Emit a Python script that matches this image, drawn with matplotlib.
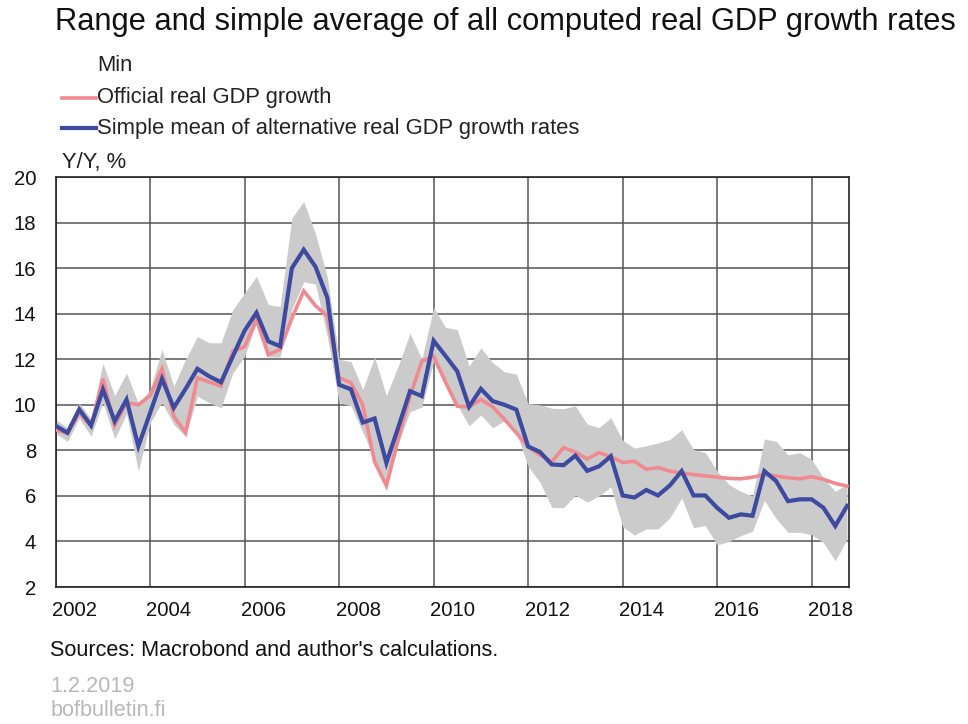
import numpy as np
import matplotlib
matplotlib.use("Agg")
import matplotlib.pyplot as plt

plt.rcParams['font.family'] = ['Liberation Sans', 'DejaVu Sans']

# --- quarterly data, 2002Q1 .. 2018Q4 ---
start_year = 2002
official = [8.9, 8.75, 9.65, 9.06, 11.14, 9.1, 10.09, 10.0, 10.4, 11.58,
            9.5, 8.77, 11.18, 11.0, 10.82, 12.35, 12.55, 13.74, 12.2, 12.43,
            13.8, 15.0, 14.35, 13.9, 11.2, 10.96, 10.0, 7.5, 6.45, 8.48,
            10.38, 11.91, 12.13, 11.0, 9.94, 9.91, 10.23, 9.91, 9.36, 8.77,
            8.15, 7.8, 7.5, 8.12, 7.92, 7.62, 7.9, 7.72, 7.47, 7.52,
            7.17, 7.24, 7.09, 7.0, 6.94, 6.88, 6.82, 6.77, 6.75, 6.82,
            6.94, 6.87, 6.8, 6.75, 6.84, 6.73, 6.55, 6.43]
mean_alt = [9.08, 8.77, 9.8, 9.09, 10.67, 9.28, 10.23, 8.18, 9.65, 11.14,
            9.87, 10.7, 11.58, 11.25, 10.99, 12.13, 13.26, 14.04, 12.79, 12.57,
            16.0, 16.81, 16.06, 14.7, 10.88, 10.68, 9.22, 9.4, 7.45, 9.0,
            10.6, 10.38, 12.81, 12.15, 11.47, 9.91, 10.7, 10.16, 10.0, 9.79,
            8.17, 7.93, 7.38, 7.35, 7.77, 7.1, 7.3, 7.74, 6.02, 5.93,
            6.26, 6.02, 6.46, 7.09, 6.02, 6.02, 5.48, 5.04, 5.19, 5.13,
            7.09, 6.65, 5.77, 5.85, 5.85, 5.48, 4.68, 5.56]
range_max = [9.35, 9.0, 10.07, 9.4, 11.82, 10.4, 11.4, 10.05, 10.67, 12.43,
             10.82, 11.99, 13.0, 12.72, 12.72, 14.18, 14.91, 15.64, 14.4, 14.32,
             18.2, 18.93, 17.5, 15.6, 12.0, 11.9, 10.67, 12.1, 10.4, 11.7,
             13.15, 12.0, 14.28, 13.4, 13.3, 11.7, 12.5, 11.85, 11.45, 11.35,
             10.05, 10.0, 9.85, 9.83, 9.95, 9.15, 9.0, 9.43, 8.45, 8.1,
             8.2, 8.33, 8.48, 8.9, 8.04, 7.9, 7.1, 6.5, 6.2, 6.0,
             8.5, 8.4, 7.8, 7.9, 7.6, 6.8, 6.2, 6.5]
range_min = [8.75, 8.4, 9.4, 8.62, 10.1, 8.5, 9.6, 7.1, 9.2, 10.1,
             9.14, 8.62, 10.38, 10.09, 9.87, 11.4, 12.13, 13.6, 12.1, 12.1,
             14.2, 15.4, 15.3, 13.0, 10.1, 9.95, 8.8, 7.6, 6.35, 8.3,
             9.7, 9.9, 11.9, 10.9, 10.0, 9.08, 9.55, 8.99, 9.3, 8.77,
             7.3, 6.6, 5.5, 5.48, 6.03, 5.73, 6.0, 6.4, 4.65, 4.28,
             4.55, 4.55, 5.04, 5.9, 4.6, 4.7, 3.85, 4.0, 4.25, 4.45,
             5.8, 5.0, 4.4, 4.4, 4.3, 3.95, 3.15, 4.1]

x = start_year + np.arange(len(official)) / 4.0
year_ticks = np.arange(2002, 2019, 2)

fig = plt.figure(figsize=(9.68, 7.24), dpi=100)
ax = fig.add_axes([0.0575, 0.1892, 0.8195, 0.5663])

ax.fill_between(x, range_min, range_max, color='#cbcbcb', lw=0, zorder=2)
ax.plot(x, official, color='#f08a90', lw=2.6, zorder=3, solid_joinstyle='miter')
ax.plot(x, mean_alt, color='#3d4aa0', lw=3.0, zorder=4, solid_joinstyle='miter')

ax.set_xlim(2002, 2018.79)
ax.set_ylim(2, 20)
ax.set_yticks(np.arange(2, 21, 2))
ax.set_xticks(year_ticks)
ax.set_xticklabels([])
# year labels sit inside the first year of each two-year grid cell
ax.set_xticks(year_ticks + 0.4, minor=True)
ax.set_xticklabels([str(y) for y in year_ticks], minor=True)
ax.tick_params(axis='both', which='both', length=0, labelsize=14.6, colors='#111111')
ax.tick_params(axis='x', which='minor', pad=10)
ax.tick_params(axis='y', pad=14)
ax.grid(True, which='major', color='#555555', lw=1.1, zorder=1)
ax.set_axisbelow(True)
for s in ax.spines.values():
    s.set_color('#222222')
    s.set_linewidth(1.2)

# title and legend-like header
fig.text(0.057, 0.969, "Range and simple average of all computed real GDP growth rates",
         fontsize=22.2, va='center', ha='left', color='#111111')
fig.text(0.100, 0.910, "Min", fontsize=15.8, va='center', ha='left', color='#222222')
fig.text(0.100, 0.865, "Official real GDP growth", fontsize=15.8, va='center', ha='left', color='#222222')
fig.text(0.100, 0.823, "Simple mean of alternative real GDP growth rates", fontsize=15.8,
         va='center', ha='left', color='#222222')
fig.add_artist(plt.Line2D([0.064, 0.099], [0.865, 0.865], color='#f08a90', lw=2.6))
fig.add_artist(plt.Line2D([0.064, 0.099], [0.823, 0.823], color='#3d4aa0', lw=3.0))
fig.text(0.064, 0.775, "Y/Y, %", fontsize=15.8, va='center', ha='left', color='#222222')

fig.text(0.052, 0.102, "Sources: Macrobond and author's calculations.", fontsize=15.6,
         va='center', ha='left', color='#111111')
fig.text(0.052, 0.052, "1.2.2019", fontsize=15.6, va='center', ha='left', color='#b8b8b8')
fig.text(0.052, 0.019, "bofbulletin.fi", fontsize=15.6, va='center', ha='left', color='#b8b8b8')

fig.savefig("out.png", dpi=100)
